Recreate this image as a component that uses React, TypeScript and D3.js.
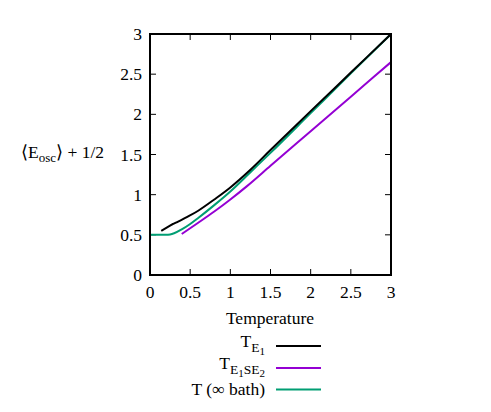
import React from "react";
import * as d3 from "d3";

const xTicks = [0, 0.5, 1, 1.5, 2, 2.5, 3];
const yTicks = [0, 0.5, 1, 1.5, 2, 2.5, 3];

const blackT = [0.14, 0.286, 0.26, 0.35, 0.47, 0.6, 0.8, 1.0, 1.25, 1.5, 2.0, 2.5, 3.0];
const blackV = [0.55, 0.635, 0.62, 0.665, 0.726, 0.8, 0.94, 1.09, 1.31, 1.555, 2.04, 2.52, 3.0];

const purpleT = [0.395, 0.6, 0.8, 1.0, 1.2, 1.5, 2.0, 2.5, 3.0];
const purpleV = [0.51, 0.65, 0.79, 0.94, 1.1, 1.36, 1.79, 2.22, 2.65];

const greenT = [0, 0.1, 0.2, 0.25, 0.3, 0.4, 0.5, 0.6, 0.8, 1.0, 1.25, 1.5, 2.0, 2.5, 3.0];
const greenV = [0.5, 0.5, 0.5, 0.505, 0.52, 0.57, 0.635, 0.71, 0.87, 1.04, 1.28, 1.52, 2.015, 2.51, 3.0];

const W = 491, H = 412;
const L = 150, R = 391, T = 34, B = 275;
const FONT = "Liberation Serif";
const FS = 17.5;

export default function App() {
  const x = d3.scaleLinear().domain([0, 3]).range([L, R]);
  const y = d3.scaleLinear().domain([0, 3]).range([B, T]);
  const mk = (ts: number[], vs: number[], curve: any) =>
    d3.line<number>().x((_, i) => x(ts[i])).y((v) => y(v)).curve(curve)(vs) || "";

  const series = [
    { d: mk(greenT, greenV, d3.curveMonotoneX), c: "#009e73" },
    { d: mk(purpleT, purpleV, d3.curveMonotoneX), c: "#9400d3" },
    { d: mk(blackT, blackV, d3.curveCatmullRom), c: "#000000" },
  ];

  const legX = 265, legL1 = 276, legL2 = 321;
  const rows = [346, 368, 389.5];

  return (
    <svg width={W} height={H} style={{ position: "absolute", left: 0, top: 0, background: "#fff" }}>
      <rect x={0} y={0} width={W} height={H} fill="#fff" />
      <defs>
        <clipPath id="plot"><rect x={L} y={T} width={R - L} height={B - T} /></clipPath>
      </defs>
      <g fontFamily={FONT} fontSize={FS}>
        {xTicks.map((t) => (
          <g key={"x" + t}>
            <line x1={x(t)} x2={x(t)} y1={B} y2={B - 6} stroke="#000" strokeWidth={1} />
            <line x1={x(t)} x2={x(t)} y1={T} y2={T + 6} stroke="#000" strokeWidth={1} />
            <text x={x(t)} y={298} textAnchor="middle" fontFamily={FONT}>{String(t)}</text>
          </g>
        ))}
        {yTicks.map((t) => (
          <g key={"y" + t}>
            <line x1={L} x2={L + 6} y1={y(t)} y2={y(t)} stroke="#000" strokeWidth={1} />
            <line x1={R} x2={R - 6} y1={y(t)} y2={y(t)} stroke="#000" strokeWidth={1} />
            <text x={142} y={y(t) + 6} textAnchor="end" fontFamily={FONT}>{String(t)}</text>
          </g>
        ))}
        <g clipPath="url(#plot)">
          {series.map((s, i) => (
            <path key={i} d={s.d} fill="none" stroke={s.c} strokeWidth={2} strokeLinejoin="round" />
          ))}
        </g>
        <rect x={L} y={T} width={R - L} height={B - T} fill="none" stroke="#000" strokeWidth={2} />
        <text x={270} y={324} textAnchor="middle" fontFamily={FONT}>Temperature</text>
        <text x={21} y={158} fontFamily={FONT}>
          ⟨E<tspan fontSize={13} dy={4}>osc</tspan><tspan dy={-4}>⟩ + 1/2</tspan>
        </text>
        <text x={legX} y={rows[0] + 1} textAnchor="end" fontFamily={FONT}>
          T<tspan fontSize={13.5} dy={5}>E</tspan><tspan fontSize={11} dy={3}>1</tspan>
        </text>
        <text x={legX} y={rows[1] + 1} textAnchor="end" fontFamily={FONT}>
          T<tspan fontSize={13.5} dy={5}>E</tspan><tspan fontSize={11} dy={3}>1</tspan><tspan fontSize={13.5} dy={-3}>SE</tspan><tspan fontSize={11} dy={3}>2</tspan>
        </text>
        <text x={legX} y={rows[2] + 5} textAnchor="end" fontFamily={FONT}>T (∞ bath)</text>
        {series.slice().reverse().map((s, i) => (
          <line key={"l" + i} x1={legL1} x2={legL2} y1={rows[i]} y2={rows[i]} stroke={s.c} strokeWidth={2} />
        ))}
      </g>
    </svg>
  );
}
